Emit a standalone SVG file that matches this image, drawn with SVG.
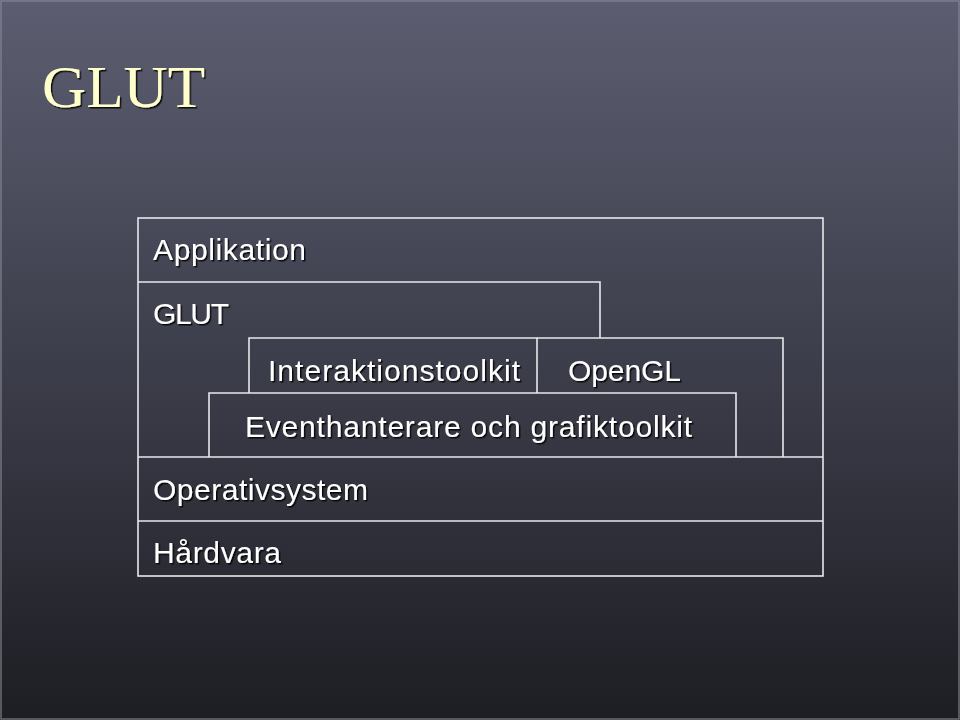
<svg xmlns="http://www.w3.org/2000/svg" width="960" height="720" viewBox="0 0 960 720">
<defs>
<linearGradient id="bg" x1="0" y1="0" x2="0" y2="1">
<stop offset="0" stop-color="#5c5d70"/>
<stop offset="0.5" stop-color="#3d3e4b"/>
<stop offset="1" stop-color="#1d1e23"/>
</linearGradient>
<filter id="sh" x="-5%" y="-20%" width="110%" height="150%">
<feDropShadow dx="1.5" dy="1.5" stdDeviation="0.6" flood-color="#000" flood-opacity="0.85"/>
</filter>
<style>
.ln{fill:none;stroke:#e8e8ec;stroke-width:1.6;}
.lb{font-family:"Liberation Sans",Arial,Helvetica,sans-serif;font-size:30px;fill:#ffffff;filter:url(#sh);}
.ttl{font-family:"Liberation Serif","Times New Roman",serif;font-size:60px;fill:#ffffcc;filter:url(#sh);}
</style>
</defs>
<rect x="0" y="0" width="960" height="720" fill="url(#bg)"/>
<rect x="1" y="1" width="958" height="718" fill="none" stroke="#8c8d99" stroke-width="1.5" stroke-opacity="0.7"/>
<text class="ttl" x="42" y="107" textLength="163" lengthAdjust="spacingAndGlyphs">GLUT</text>
<g id="connectors">
</g>
<g id="applikation">
<rect class="ln" x="138" y="218" width="685" height="358"/>
<text class="lb" x="153" y="260" textLength="153">Applikation</text>
</g>
<g id="glut">
<polyline class="ln" points="138,282 600,282 600,338"/>
<text class="lb" x="153" y="324" textLength="76">GLUT</text>
</g>
<g id="interaktionstoolkit">
<polyline class="ln" points="249,393 249,338 537,338 537,393"/>
<text class="lb" x="268" y="381" textLength="252">Interaktionstoolkit</text>
</g>
<g id="opengl">
<polyline class="ln" points="537,338 783,338 783,457"/>
<text class="lb" x="568" y="381" textLength="113">OpenGL</text>
</g>
<g id="eventhanterare">
<polyline class="ln" points="209,457 209,393 736,393 736,457"/>
<text class="lb" x="245" y="437" textLength="447">Eventhanterare och grafiktoolkit</text>
</g>
<g id="operativsystem">
<line class="ln" x1="138" y1="457" x2="823" y2="457"/>
<text class="lb" x="153" y="500" textLength="215">Operativsystem</text>
</g>
<g id="hardvara">
<line class="ln" x1="138" y1="521" x2="823" y2="521"/>
<text class="lb" x="153" y="563" textLength="128">Hårdvara</text>
</g>
</svg>
